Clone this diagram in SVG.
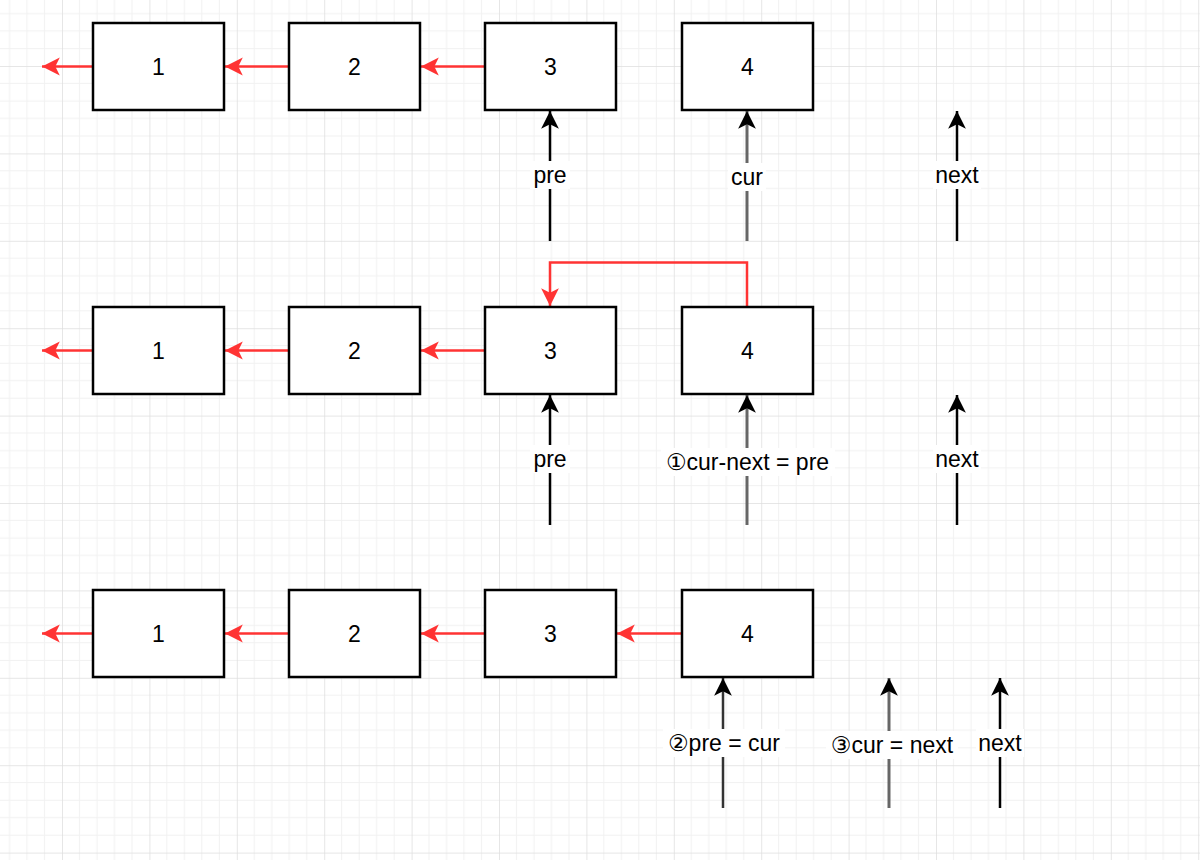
<svg xmlns="http://www.w3.org/2000/svg" width="1200" height="860" viewBox="0 0 1200 860">
<style>
.box{fill:#fff;stroke:#000;stroke-width:2.5}
.num{font-family:"Liberation Sans","DejaVu Sans",sans-serif;font-size:23px;fill:#000;text-anchor:middle}
.lbl{font-family:"Liberation Sans","DejaVu Sans","Noto Sans CJK SC",sans-serif;font-size:23px;fill:#000;text-anchor:middle}
.red{stroke:#ff3333;stroke-width:2.5;fill:none}
.blk{stroke:#000;stroke-width:2.5;fill:none}
.gry{stroke:#666;stroke-width:3;fill:none}
.dgr{stroke:#333;stroke-width:2.5;fill:none}
.bg{fill:#fff}
</style>
<defs>
<pattern id="grid" patternUnits="userSpaceOnUse" x="62" y="66" width="87.4" height="87.4">
<path d="M17.48 0V87.4M34.96 0V87.4M52.44 0V87.4M69.92 0V87.4M0 17.48H87.4M0 34.96H87.4M0 52.44H87.4M0 69.92H87.4" stroke="#f1f1f1" stroke-width="1" fill="none"/>
<path d="M0 0V87.4M0 0H87.4" stroke="#dedede" stroke-width="1.5" fill="none"/>
</pattern>
<marker id="ar" markerUnits="userSpaceOnUse" markerWidth="20" markerHeight="20" viewBox="-16 -9 18 18" refX="0" refY="0" orient="auto">
<path d="M0 0L-16 -8L-12 0L-16 8Z" fill="#ff3333"/>
</marker>
<marker id="ab" markerUnits="userSpaceOnUse" markerWidth="20" markerHeight="20" viewBox="-16 -9 18 18" refX="0" refY="0" orient="auto">
<path d="M0 0L-16 -8L-12 0L-16 8Z" fill="#000"/>
</marker>
</defs>
<rect width="1200" height="860" fill="#fff"/>
<rect width="1200" height="860" fill="url(#grid)"/>

<g id="connectors">
<!-- row 1 -->
<path class="red" d="M93 66.5H42" marker-end="url(#ar)"/>
<path class="red" d="M289 66.5H225" marker-end="url(#ar)"/>
<path class="red" d="M485 66.5H421" marker-end="url(#ar)"/>
<path class="blk" d="M550 241V111" marker-end="url(#ab)"/>
<path class="gry" d="M747 241V111" marker-end="url(#ab)"/>
<path class="blk" d="M957 241V111" marker-end="url(#ab)"/>
<!-- row 2 -->
<path class="red" d="M93 350.5H42" marker-end="url(#ar)"/>
<path class="red" d="M289 350.5H225" marker-end="url(#ar)"/>
<path class="red" d="M485 350.5H421" marker-end="url(#ar)"/>
<path class="red" d="M747 307V262.5H550V306" marker-end="url(#ar)"/>
<path class="blk" d="M550 525V395" marker-end="url(#ab)"/>
<path class="gry" d="M747 525V395" marker-end="url(#ab)"/>
<path class="blk" d="M957 525V395" marker-end="url(#ab)"/>
<!-- row 3 -->
<path class="red" d="M93 633.5H42" marker-end="url(#ar)"/>
<path class="red" d="M289 633.5H225" marker-end="url(#ar)"/>
<path class="red" d="M485 633.5H421" marker-end="url(#ar)"/>
<path class="red" d="M682 633.5H617" marker-end="url(#ar)"/>
<path class="dgr" d="M723 808V678" marker-end="url(#ab)"/>
<path class="gry" d="M889 808V678" marker-end="url(#ab)"/>
<path class="blk" d="M1000 808V678" marker-end="url(#ab)"/>
</g>

<g id="labels">
<rect class="bg" x="530" y="161" width="40" height="28"/>
<text class="lbl" x="550" y="183">pre</text>
<rect class="bg" x="728" y="163" width="38" height="28"/>
<text class="lbl" x="747" y="185">cur</text>
<rect class="bg" x="933" y="161" width="48" height="28"/>
<text class="lbl" x="957" y="183">next</text>

<rect class="bg" x="530" y="445" width="40" height="28"/>
<text class="lbl" x="550" y="467">pre</text>
<rect class="bg" x="661" y="448" width="174" height="28"/>
<text class="lbl" x="747.5" y="470">①cur-next = pre</text>
<rect class="bg" x="933" y="445" width="48" height="28"/>
<text class="lbl" x="957" y="467">next</text>

<rect class="bg" x="663" y="729" width="122" height="28"/>
<text class="lbl" x="724" y="751">②pre = cur</text>
<rect class="bg" x="826" y="731" width="132" height="28"/>
<text class="lbl" x="892" y="753">③cur = next</text>
<rect class="bg" x="976" y="729" width="48" height="28"/>
<text class="lbl" x="1000" y="751">next</text>
</g>

<g id="r1n1"><rect class="box" x="93" y="23" width="131" height="87"/><text class="num" x="158.5" y="74.5">1</text></g>
<g id="r1n2"><rect class="box" x="289" y="23" width="131" height="87"/><text class="num" x="354.5" y="74.5">2</text></g>
<g id="r1n3"><rect class="box" x="485" y="23" width="131" height="87"/><text class="num" x="550.5" y="74.5">3</text></g>
<g id="r1n4"><rect class="box" x="682" y="23" width="131" height="87"/><text class="num" x="747.5" y="74.5">4</text></g>

<g id="r2n1"><rect class="box" x="93" y="307" width="131" height="87"/><text class="num" x="158.5" y="358.5">1</text></g>
<g id="r2n2"><rect class="box" x="289" y="307" width="131" height="87"/><text class="num" x="354.5" y="358.5">2</text></g>
<g id="r2n3"><rect class="box" x="485" y="307" width="131" height="87"/><text class="num" x="550.5" y="358.5">3</text></g>
<g id="r2n4"><rect class="box" x="682" y="307" width="131" height="87"/><text class="num" x="747.5" y="358.5">4</text></g>

<g id="r3n1"><rect class="box" x="93" y="590" width="131" height="87"/><text class="num" x="158.5" y="641.5">1</text></g>
<g id="r3n2"><rect class="box" x="289" y="590" width="131" height="87"/><text class="num" x="354.5" y="641.5">2</text></g>
<g id="r3n3"><rect class="box" x="485" y="590" width="131" height="87"/><text class="num" x="550.5" y="641.5">3</text></g>
<g id="r3n4"><rect class="box" x="682" y="590" width="131" height="87"/><text class="num" x="747.5" y="641.5">4</text></g>
</svg>
